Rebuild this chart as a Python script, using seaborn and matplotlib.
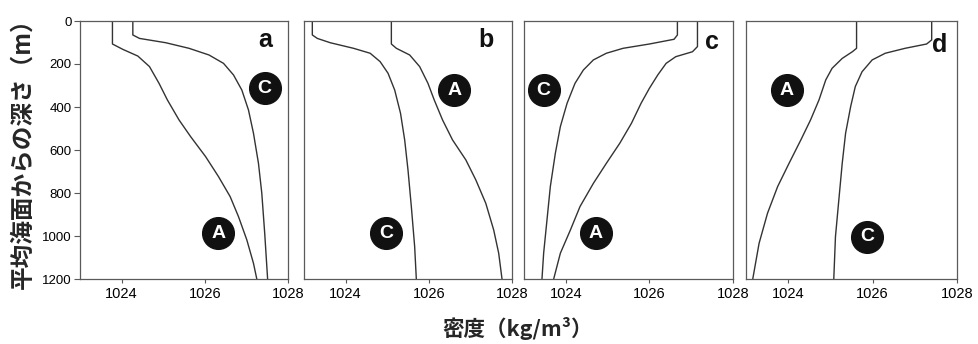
import matplotlib
matplotlib.use("Agg")
import matplotlib.pyplot as plt
import seaborn as sns
import pandas as pd

sns.set_style("white")
plt.rcParams['font.family'] = ['Liberation Sans', 'Noto Sans CJK JP', 'DejaVu Sans']

# ---------------- data ----------------
panel_names = ["a", "b", "c", "d"]

# panel a
a_A_depth = [0, 107, 132, 163, 212, 290, 367, 460, 538, 631, 724, 817, 910, 1018, 1127, 1200]
a_A_dens = [1023.78, 1023.78, 1024.03, 1024.39, 1024.67, 1024.90, 1025.10, 1025.38, 1025.66,
            1026.02, 1026.33, 1026.61, 1026.81, 1027.01, 1027.17, 1027.25]
a_C_depth = [0, 65, 81, 101, 127, 158, 197, 251, 321, 414, 522, 662, 801, 987, 1200]
a_C_dens = [1024.27, 1024.27, 1024.43, 1025.06, 1025.62, 1026.10, 1026.45, 1026.69, 1026.89,
            1027.05, 1027.17, 1027.29, 1027.37, 1027.44, 1027.51]

# panel b
b_C_depth = [0, 65, 81, 101, 127, 150, 189, 243, 321, 429, 553, 693, 863, 1049, 1200]
b_C_dens = [1023.20, 1023.20, 1023.32, 1023.63, 1024.19, 1024.59, 1024.83, 1025.02, 1025.18,
            1025.32, 1025.42, 1025.50, 1025.58, 1025.66, 1025.70]
b_A_depth = [0, 107, 127, 158, 212, 290, 367, 460, 553, 646, 739, 848, 972, 1080, 1200]
b_A_dens = [1025.10, 1025.10, 1025.22, 1025.54, 1025.78, 1025.98, 1026.13, 1026.33, 1026.57,
            1026.89, 1027.13, 1027.37, 1027.56, 1027.68, 1027.76]

# panel c
c_C_depth = [0, 65, 85, 107, 127, 150, 181, 228, 290, 383, 491, 615, 770, 925, 1080, 1200]
c_C_dens = [1026.67, 1026.67, 1026.59, 1026.00, 1025.37, 1024.97, 1024.66, 1024.42, 1024.22,
            1024.03, 1023.87, 1023.75, 1023.63, 1023.55, 1023.47, 1023.43]
c_A_depth = [0, 119, 143, 166, 197, 251, 313, 383, 476, 569, 662, 755, 863, 972, 1080, 1200]
c_A_dens = [1027.15, 1027.15, 1027.03, 1026.63, 1026.40, 1026.20, 1026.00, 1025.80, 1025.57,
            1025.29, 1024.97, 1024.66, 1024.34, 1024.11, 1023.87, 1023.71]

# panel d
d_A_depth = [0, 127, 143, 174, 220, 274, 367, 460, 553, 662, 770, 894, 1034, 1200]
d_A_dens = [1025.62, 1025.62, 1025.52, 1025.28, 1025.04, 1024.89, 1024.73, 1024.53, 1024.30,
            1024.02, 1023.75, 1023.51, 1023.31, 1023.16]
d_C_depth = [0, 88, 107, 127, 150, 181, 236, 305, 398, 522, 662, 832, 1003, 1200]
d_C_dens = [1027.40, 1027.40, 1027.28, 1026.77, 1026.30, 1025.99, 1025.75, 1025.59, 1025.48,
            1025.36, 1025.28, 1025.20, 1025.12, 1025.08]

curves = {
    "a": [(a_A_dens, a_A_depth), (a_C_dens, a_C_depth)],
    "b": [(b_C_dens, b_C_depth), (b_A_dens, b_A_depth)],
    "c": [(c_C_dens, c_C_depth), (c_A_dens, c_A_depth)],
    "d": [(d_A_dens, d_A_depth), (d_C_dens, d_C_depth)],
}

# circled labels: (letter, density, depth)
circle_labels = {
    "a": [("C", 1027.44, 313), ("A", 1026.32, 987)],
    "b": [("A", 1026.61, 321), ("C", 1024.97, 987)],
    "c": [("C", 1023.47, 321), ("A", 1024.72, 987)],
    "d": [("A", 1023.96, 321), ("C", 1025.87, 1003)],
}
panel_letter_pos = {"a": (1027.44, 88), "b": (1027.37, 88), "c": (1027.49, 96), "d": (1027.6, 112)}

x_ticks = [1024, 1026, 1028]
y_ticks = [0, 200, 400, 600, 800, 1000, 1200]
x_label = "密度（kg/m³）"
y_label = "平均海面からの深さ（m）"

# ---------------- figure ----------------
W, H = 979, 344
fig = plt.figure(figsize=(W / 100, H / 100), dpi=100)
lefts = [80, 304, 524, 746]
rights = [288, 512, 733, 957]
top, bottom = 21, 279

line_col = "#333333"
frame_col = "#5a5a5a"

for i, name in enumerate(panel_names):
    ax = fig.add_axes([lefts[i] / W, (H - bottom) / H, (rights[i] - lefts[i]) / W, (bottom - top) / H])
    for dens, depth in curves[name]:
        df = pd.DataFrame({"density": dens, "depth": depth})
        sns.lineplot(data=df, x="density", y="depth", sort=False, estimator=None,
                     color=line_col, linewidth=1.0, ax=ax)
    for letter, xv, yv in circle_labels[name]:
        ax.scatter([xv], [yv], s=520, color="#111111", zorder=5)
        ax.text(xv, yv, letter, color="white", fontsize=14, fontweight="bold",
                ha="center", va="center", zorder=6)
    px, py = panel_letter_pos[name]
    ax.text(px, py, name, fontsize=18, fontweight="bold", ha="center", va="center", color="#111111")

    ax.set_xlim(1023, 1028)
    ax.set_ylim(1200, 0)
    ax.set_xticks(x_ticks)
    ax.set_xticklabels([str(t) for t in x_ticks], fontsize=10.5, color="#000000")
    ax.tick_params(axis="x", direction="out", length=3, width=0.8, color=frame_col, pad=3, bottom=True)
    if i == 0:
        ax.set_yticks(y_ticks)
        ax.set_yticklabels([str(t) for t in y_ticks], fontsize=9.5, color="#000000")
        ax.tick_params(axis="y", direction="out", length=4, width=0.8, color=frame_col, pad=2, left=True)
    else:
        ax.set_yticks([])
    ax.set_xlabel("")
    ax.set_ylabel("")
    for sp in ax.spines.values():
        sp.set_color(frame_col)
        sp.set_linewidth(0.9)

fig.text(518 / W, 1 - 328 / H, x_label, fontsize=15.5, fontweight="bold",
         ha="center", va="center", family=["Noto Sans CJK JP", "DejaVu Sans"])
fig.text(23 / W, 1 - 148 / H, y_label, fontsize=17, fontweight="bold", rotation=90,
         ha="center", va="center", family=["Noto Sans CJK JP", "DejaVu Sans"])

fig.savefig("out.png", dpi=100)
